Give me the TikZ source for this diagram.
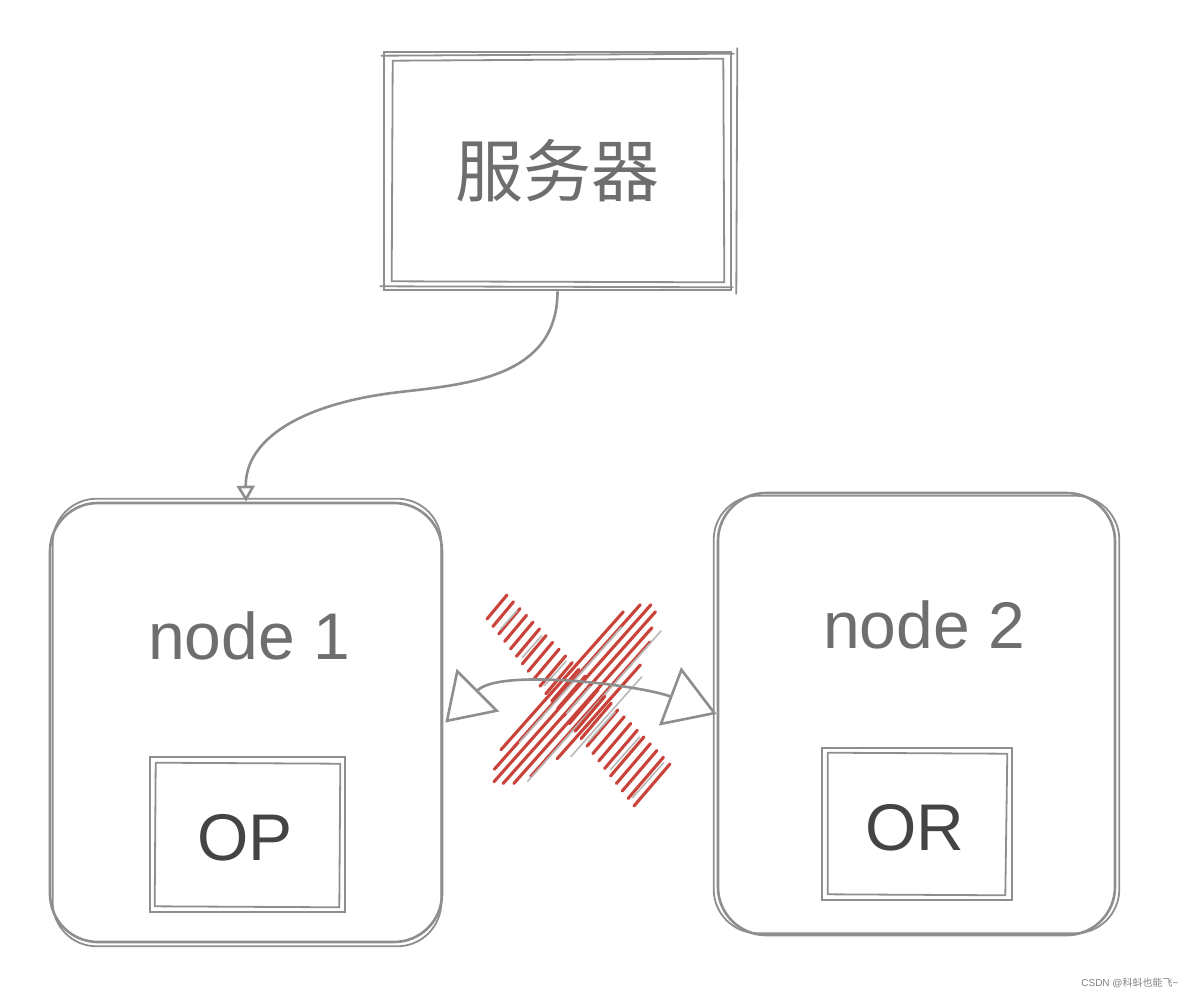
\documentclass[tikz,border=0pt]{standalone}
\usepackage{fontspec}
\setmainfont{Liberation Sans}
\newfontfamily\cjk{Noto Sans CJK SC}
\usetikzlibrary{arrows.meta,calc}
\definecolor{ln}{HTML}{8E8E8E}
\definecolor{lnl}{HTML}{B8B8B8}
\definecolor{tx}{HTML}{6E6E6E}
\definecolor{txd}{HTML}{444444}
\definecolor{rd}{HTML}{C9433A}
\begin{document}
\begin{tikzpicture}[x=1pt,y=-1pt,
  sk/.style={draw=ln,line width=2.6pt},
  skl/.style={draw=ln,line width=1.8pt},
  box/.style={sk,rectangle,inner sep=0pt},
  rbox/.style={sk,rectangle,rounded corners=48pt,inner sep=0pt},
  lbl/.style={text=tx,font=\fontsize{66}{70}\selectfont},
  lbld/.style={text=txd,font=\fontsize{66}{70}\selectfont},
  conn/.style={draw=ln,line width=2.6pt},
  hatch/.style={draw=rd,line width=3.1pt,line cap=round},
  shade/.style={draw=lnl,line width=1.6pt,line cap=round}]
\useasboundingbox (0,0) rectangle (1194,998);

% server box
\node[box,minimum width=347pt,minimum height=238pt,text=tx,
  font=\cjk\fontsize{68}{72}\selectfont] (srv) at (557.5,171) {服务器};
\draw[skl] ($(srv.north west)+(10,10)$) -- ($(srv.north east)+(-9,8)$)
  -- ($(srv.south east)+(-8,-9)$) -- ($(srv.south west)+(9,-10)$) -- cycle;
\draw[skl] ($(srv.north west)+(-2,5)$) -- ($(srv.north east)+(2,3)$);
\draw[skl] ($(srv.south west)+(-3,-5)$) -- ($(srv.south east)+(1,-4)$);
\draw[skl] ($(srv.north east)+(5,-3)$) -- ($(srv.south east)+(4,3)$);

% node 1
\node[rbox,minimum width=392pt,minimum height=439pt] (n1) at (246,722.5) {};
\draw[skl,rounded corners=44pt] ($(n1.north west)+(4,-3)$) rectangle ($(n1.south east)+(-2,3)$);
\node[lbl] (t1) at (249,636) {node 1};
\node[box,minimum width=195pt,minimum height=155pt] (op) at (247.5,834.5) {};
\draw[skl] ($(op.north west)+(7,7)$) -- ($(op.north east)+(-6,8)$)
  -- ($(op.south east)+(-7,-6)$) -- ($(op.south west)+(6,-7)$) -- cycle;
\node[lbld] (top) at (245,838) {OP};

% node 2
\node[rbox,minimum width=397pt,minimum height=442pt] (n2) at (916.5,714) {};
\draw[skl,rounded corners=44pt] ($(n2.north west)+(-3,4)$) rectangle ($(n2.south east)+(3,-3)$);
\node[lbl] (t2) at (924,625) {node 2};
\node[box,minimum width=190pt,minimum height=152pt] (or) at (917,824) {};
\draw[skl] ($(or.north west)+(7,6)$) -- ($(or.north east)+(-6,7)$)
  -- ($(or.south east)+(-8,-6)$) -- ($(or.south west)+(7,-7)$) -- cycle;
\node[lbld] (tor) at (915,828) {OR};

% server -> node 1
\coordinate (mid) at (400,392);
\draw[conn] (srv.south) .. controls +(0,85) and (470,384) .. (mid);
\draw[conn,-{Triangle[open,length=16pt,width=18pt]}]
  (mid) .. controls (300,403.4) and (245,440) .. (n1.north);

% red X
\foreach \o/\a/\b in {-24/0.12/0.90,-16/0.04/0.97,-8/0.0/1.0,0/0.02/0.99,8/0.05/0.93,16/0.12/0.88,24/0.25/0.78}{
  \draw[hatch] ($(500,787)!\a!(657,610)+(0.748*\o,0.664*\o)$) -- ($(500,787)!\b!(657,610)+(0.748*\o,0.664*\o)$);
}
\foreach \o/\a/\b in {-20/0.2/0.85,12/0.1/0.95,28/0.3/0.75}{
  \draw[shade] ($(500,787)!\a!(657,610)+(0.748*\o+3,0.664*\o+4)$) -- ($(500,787)!\b!(657,610)+(0.748*\o+3,0.664*\o+4)$);
}
\foreach \t in {0,0.04,...,1.0}{
  \draw[hatch] ($(497,607)!\t!(652,785)+(-10-8*\t,12+9*\t)$) -- ++(20+16*\t,-24-18*\t);
}
\foreach \t in {0.05,0.2,...,1.0}{
  \draw[shade] ($(501,611)!\t!(656,789)+(-8-8*\t,9+9*\t)$) -- ++(16+16*\t,-18-18*\t);
}

% node 1 <-> node 2 (crossed out)
\draw[conn,{Triangle[open,length=46pt,width=60pt]}-{Triangle[open,length=50pt,width=62pt]}]
  ($(n1.east)+(2,0)$) .. controls (500,668) and (640,685) .. (n2.west);

% watermark
\node[text=gray,font=\fontsize{10}{12}\selectfont,anchor=east] (wm) at (1182,983) {CSDN @{\cjk 科蚪也能飞}\textasciitilde};
\end{tikzpicture}
\end{document}
